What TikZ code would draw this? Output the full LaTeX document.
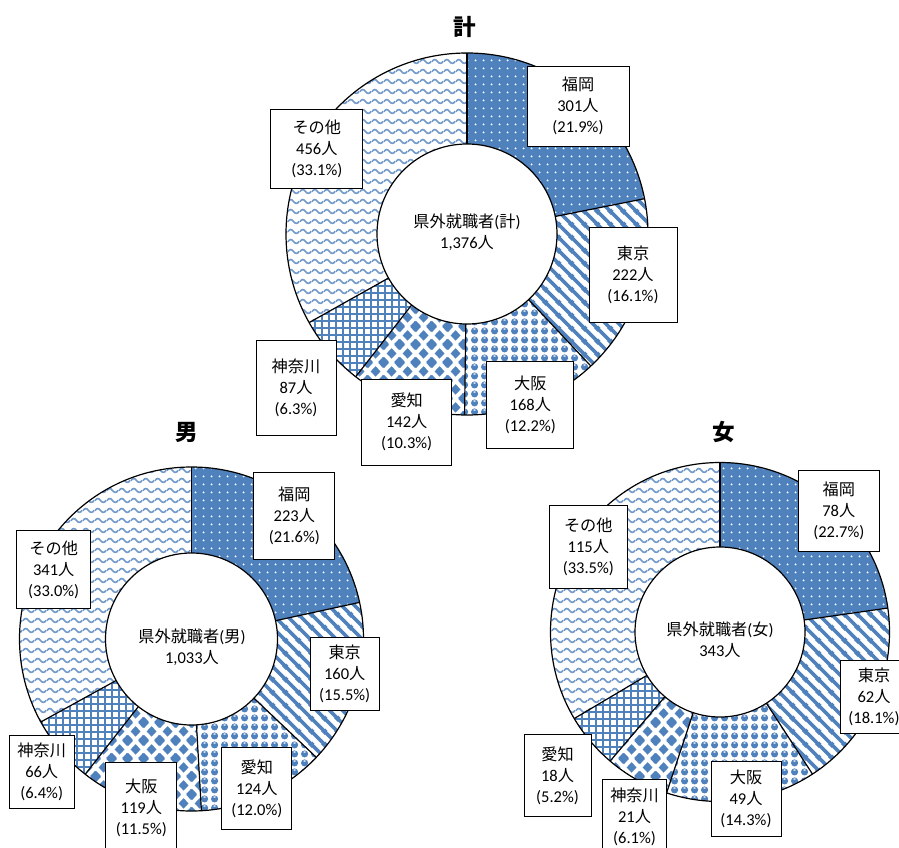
\documentclass[tikz,border=0pt]{standalone}
\usepackage{fontspec}
\setmainfont{Carlito}
\newfontfamily\cjk{Noto Sans CJK JP}[Scale=0.98]
\usetikzlibrary{patterns}
\definecolor{xlblue}{RGB}{79,129,189}

\pgfdeclarepatternformonly{pdots}{\pgfpointorigin}{\pgfpoint{8pt}{8pt}}{\pgfpoint{8pt}{8pt}}{%
  \pgfpathcircle{\pgfpoint{4pt}{4pt}}{1.2pt}\pgfusepath{fill}}
\pgfdeclarepatternformonly{pstripes}{\pgfpointorigin}{\pgfpoint{13pt}{13pt}}{\pgfpoint{13pt}{13pt}}{%
  \pgfsetlinewidth{3.8pt}%
  \pgfpathmoveto{\pgfpoint{-1pt}{14pt}}\pgfpathlineto{\pgfpoint{14pt}{-1pt}}%
  \pgfpathmoveto{\pgfpoint{-3pt}{3pt}}\pgfpathlineto{\pgfpoint{3pt}{-3pt}}%
  \pgfpathmoveto{\pgfpoint{10pt}{16pt}}\pgfpathlineto{\pgfpoint{16pt}{10pt}}%
  \pgfusepath{stroke}}
\pgfdeclarepatternformonly{pbub}{\pgfpointorigin}{\pgfpoint{10pt}{9pt}}{\pgfpoint{10pt}{9pt}}{%
  \pgfpathcircle{\pgfpoint{5pt}{4.5pt}}{3.9pt}\pgfusepath{fill}}
\pgfdeclarepatternformonly{phigh}{\pgfpointorigin}{\pgfpoint{10pt}{9pt}}{\pgfpoint{10pt}{9pt}}{%
  \pgfpathellipse{\pgfpoint{5pt}{6.6pt}}{\pgfpoint{1.7pt}{0pt}}{\pgfpoint{0pt}{0.8pt}}\pgfusepath{fill}}
\pgfdeclarepatternformonly{pdiam}{\pgfpointorigin}{\pgfpoint{16pt}{18pt}}{\pgfpoint{16pt}{18pt}}{%
  \pgfpathmoveto{\pgfpoint{2.8pt}{9pt}}\pgfpathlineto{\pgfpoint{8pt}{14.5pt}}\pgfpathlineto{\pgfpoint{13.2pt}{9pt}}\pgfpathlineto{\pgfpoint{8pt}{3.5pt}}\pgfpathclose
  \pgfpathmoveto{\pgfpoint{-5.2pt}{0pt}}\pgfpathlineto{\pgfpoint{0pt}{5.5pt}}\pgfpathlineto{\pgfpoint{5.2pt}{0pt}}\pgfpathlineto{\pgfpoint{0pt}{-5.5pt}}\pgfpathclose
  \pgfpathmoveto{\pgfpoint{10.8pt}{0pt}}\pgfpathlineto{\pgfpoint{16pt}{5.5pt}}\pgfpathlineto{\pgfpoint{21.2pt}{0pt}}\pgfpathlineto{\pgfpoint{16pt}{-5.5pt}}\pgfpathclose
  \pgfpathmoveto{\pgfpoint{-5.2pt}{18pt}}\pgfpathlineto{\pgfpoint{0pt}{23.5pt}}\pgfpathlineto{\pgfpoint{5.2pt}{18pt}}\pgfpathlineto{\pgfpoint{0pt}{12.5pt}}\pgfpathclose
  \pgfpathmoveto{\pgfpoint{10.8pt}{18pt}}\pgfpathlineto{\pgfpoint{16pt}{23.5pt}}\pgfpathlineto{\pgfpoint{21.2pt}{18pt}}\pgfpathlineto{\pgfpoint{16pt}{12.5pt}}\pgfpathclose
  \pgfusepath{fill}}
\pgfdeclarepatternformonly{pgrid}{\pgfpointorigin}{\pgfpoint{6.5pt}{6.5pt}}{\pgfpoint{6.5pt}{6.5pt}}{%
  \pgfsetlinewidth{1.9pt}%
  \pgfpathmoveto{\pgfpoint{3.25pt}{-1pt}}\pgfpathlineto{\pgfpoint{3.25pt}{7.5pt}}%
  \pgfpathmoveto{\pgfpoint{-1pt}{3.25pt}}\pgfpathlineto{\pgfpoint{7.5pt}{3.25pt}}%
  \pgfusepath{stroke}}
\pgfdeclarepatternformonly{pwave}{\pgfpointorigin}{\pgfpoint{12pt}{9.5pt}}{\pgfpoint{12pt}{9.5pt}}{%
  \pgfsetlinewidth{1.7pt}\pgfsetroundcap
  \pgfpathmoveto{\pgfpoint{0pt}{4.75pt}}%
  \pgfpathcurveto{\pgfpoint{2pt}{7.4pt}}{\pgfpoint{4pt}{7.4pt}}{\pgfpoint{6pt}{4.75pt}}%
  \pgfpathcurveto{\pgfpoint{8pt}{2.1pt}}{\pgfpoint{10pt}{2.1pt}}{\pgfpoint{12pt}{4.75pt}}%
  \pgfusepath{stroke}}

\newcommand\mylab[3]{{\cjk #1}\\#2{\cjk 人}\\(#3\%)}
\newcommand\pieslice[6]{%
  \path[#6] (#1,#2) -- ([shift={(#4:#3)}]#1,#2) arc[start angle=#4,end angle=#5,radius=#3] -- cycle;}
\newcommand\donut[5]{% cx cy R r list-of-6-boundaries
  \foreach \aa/\bb/\st in {#5}{\pieslice{#1}{#2}{#3}{\aa}{\bb}{\st}}
  \foreach \aa/\bb/\st in {#5}{\draw[ring] ([shift={(\aa:#4)}]#1,#2) -- ([shift={(\aa:#3)}]#1,#2);}
  \draw[ring] (#1,#2) circle[radius=#3];
  \draw[ring, fill=white] (#1,#2) circle[radius=#4];}

\tikzset{
  ring/.style={draw=black, line width=1.2pt},
  sA/.style={preaction={fill=xlblue}, pattern=pdots, pattern color=white},
  sB/.style={preaction={fill=white}, pattern=pstripes, pattern color=xlblue},
  sC/.style={preaction={fill=white}, pattern=pbub, pattern color=xlblue, postaction={pattern=phigh, pattern color=white}},
  sD/.style={preaction={fill=white}, pattern=pdiam, pattern color=xlblue},
  sE/.style={preaction={fill=white}, pattern=pgrid, pattern color=xlblue},
  sF/.style={preaction={fill=white}, pattern=pwave, pattern color=xlblue!80},
  lab/.style={draw=black, fill=white, line width=0.9pt, align=center, inner sep=0pt,
    font=\fontsize{16.5}{21}\selectfont},
  ctr/.style={align=center, inner sep=0pt, font=\fontsize{16.5}{21}\selectfont},
  ttl/.style={inner sep=0pt, font=\fontsize{23}{23}\selectfont\cjk\bfseries},
}

\begin{document}
\begin{tikzpicture}[x=1pt, y=-1pt]
\clip (0,0) rectangle (899,848);
\fill[white] (0,0) rectangle (899,848);

% --- total chart
\donut{467}{234}{181}{90}{-90/-11.25/sA, -11.25/46.83/sB, 46.83/90.78/sC, 90.78/127.94/sD, 127.94/150.70/sE, 150.70/270/sF}
% --- male chart
\donut{191.5}{639}{172}{86}{-90/-12.29/sA, -12.29/43.47/sB, 43.47/86.69/sC, 86.69/128.16/sD, 128.16/151.16/sE, 151.16/270/sF}
% --- female chart
\donut{720}{632}{169.5}{85}{-90/-8.13/sA, -8.13/56.94/sB, 56.94/108.37/sC, 108.37/130.41/sD, 130.41/149.30/sE, 149.30/270/sF}

% titles
\node[ttl] (tT) at (465,26.5) {計};
\node[ttl] (tM) at (187,432) {男};
\node[ttl] (tF) at (724,432) {女};

% centre texts
\node[ctr] (cT) at (467,232.4) {{\cjk 県外就職者}({\cjk 計})\\1,376{\cjk 人}};
\node[ctr] (cM) at (192,647) {{\cjk 県外就職者}({\cjk 男})\\1,033{\cjk 人}};
\node[ctr] (cF) at (720,640) {{\cjk 県外就職者}({\cjk 女})\\343{\cjk 人}};

% total labels
\node[lab, minimum width=102, minimum height=80] (T1) at (578,106) {\mylab{福岡}{301}{21.9}};
\node[lab, minimum width=88, minimum height=95] (T2) at (633,275.2) {\mylab{東京}{222}{16.1}};
\node[lab, minimum width=87, minimum height=87] (T3) at (530.3,404.5) {\mylab{大阪}{168}{12.2}};
\node[lab, minimum width=90, minimum height=86] (T4) at (406.7,422) {\mylab{愛知}{142}{10.3}};
\node[lab, minimum width=80, minimum height=95] (T5) at (296,388.3) {\mylab{神奈川}{87}{6.3}};
\node[lab, minimum width=92, minimum height=79] (T6) at (316.8,148.5) {\mylab{その他}{456}{33.1}};

% male labels
\node[lab, minimum width=81, minimum height=87] (M1) at (294.3,515.8) {\mylab{福岡}{223}{21.6}};
\node[lab, minimum width=69, minimum height=73] (M2) at (344.7,673.7) {\mylab{東京}{160}{15.5}};
\node[lab, minimum width=70, minimum height=82] (M3) at (256.8,788.5) {\mylab{愛知}{124}{12.0}};
\node[lab, minimum width=71, minimum height=92] (M4) at (141.3,808) {\mylab{大阪}{119}{11.5}};
\node[lab, minimum width=65, minimum height=73] (M5) at (41.7,771.7) {\mylab{神奈川}{66}{6.4}};
\node[lab, minimum width=74, minimum height=78] (M6) at (53.7,569.8) {\mylab{その他}{341}{33.0}};

% female labels
\node[lab, minimum width=81, minimum height=81] (F1) at (838.8,511.2) {\mylab{福岡}{78}{22.7}};
\node[lab, minimum width=67, minimum height=73] (F2) at (874,696.7) {\mylab{東京}{62}{18.1}};
\node[lab, minimum width=70, minimum height=75] (F3) at (746,799.2) {\mylab{大阪}{49}{14.3}};
\node[lab, minimum width=64, minimum height=75] (F4) at (634.5,816.7) {\mylab{神奈川}{21}{6.1}};
\node[lab, minimum width=67, minimum height=82] (F5) at (557.5,775.8) {\mylab{愛知}{18}{5.2}};
\node[lab, minimum width=78, minimum height=83] (F6) at (588.3,547) {\mylab{その他}{115}{33.5}};
\end{tikzpicture}
\end{document}
